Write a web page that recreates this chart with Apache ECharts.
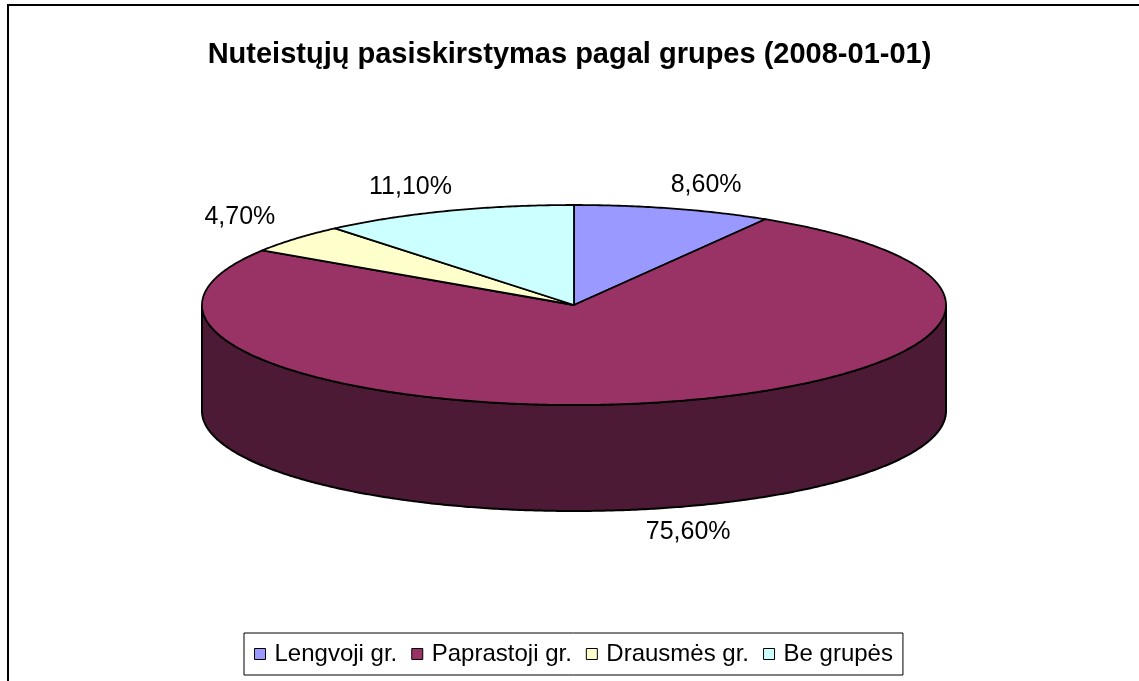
<!DOCTYPE html>
<html>
<head>
<meta charset="utf-8">
<script src="https://cdn.jsdelivr.net/npm/echarts@6/dist/echarts.min.js"></script>
<style>
  html, body { margin: 0; padding: 0; background: #fff; }
  #chart { width: 1139px; height: 681px; }
</style>
</head>
<body>
<div id="chart"></div>
<script>
// duomenys
const categories = ["Lengvoji gr.", "Paprastoji gr.", "Drausmės gr.", "Be grupės"];
const values = [8.6, 75.6, 4.7, 11.1];
const topColors = ["#9999FF", "#993366", "#FFFFCC", "#CCFFFF"];
const sideColors = ["#4D4D80", "#4C1A35", "#808066", "#668080"];

const FONT = "Liberation Sans, Arial, sans-serif";

// pseudo-3D elipsės parametrai
const cx = 574, cy = 305, rx = 372, ry = 100, depth = 106;

const total = values.reduce((a, b) => a + b, 0);
const starts = [];
values.reduce((acc, v, i) => { starts[i] = acc; return acc + v; }, 0);

const fmt = (v) => v.toFixed(2).replace(".", ",") + "%";

// kampas matuojamas nuo viršaus pagal laikrodžio rodyklę
const pt = (t, dy) => [cx + rx * Math.sin(t), cy - ry * Math.cos(t) + (dy || 0)];

function arc(t0, t1, dy) {
  const pts = [];
  const n = Math.max(2, Math.ceil(Math.abs(t1 - t0) / (Math.PI / 360)));
  for (let k = 0; k <= n; k++) pts.push(pt(t0 + (t1 - t0) * k / n, dy));
  return pts;
}

function renderItem(params, api) {
  const i = params.dataIndex;
  const t0 = api.value(0) / total * Math.PI * 2;
  const t1 = (api.value(0) + api.value(1)) / total * Math.PI * 2;
  const children = [];

  // matomas šoninis paviršius (priekinė pusė)
  const s = Math.max(t0, Math.PI / 2), e = Math.min(t1, Math.PI * 1.5);
  if (s < e) {
    const pts = arc(s, e, 0).concat(arc(e, s, depth));
    children.push({
      type: "polygon",
      z2: 1,
      shape: { points: pts },
      style: { fill: sideColors[i], stroke: "#000", lineWidth: 2 },
    });
  }

  // viršutinis paviršius
  children.push({
    type: "polygon",
    z2: 10,
    shape: { points: [[cx, cy]].concat(arc(t0, t1, 0)) },
    style: { fill: topColors[i], stroke: "#000", lineWidth: 1.8, lineJoin: "round" },
  });

  // etiketė
  const m = (t0 + t1) / 2;
  const sn = Math.sin(m), cs = Math.cos(m);
  const lx = cx + (rx + 48) * sn + 20 * Math.sign(sn);
  let ly = cy - (ry + 7) * cs - 17 * Math.sign(cs);
  if (cs < 0) ly += depth;
  children.push({
    type: "text",
    z2: 20,
    x: lx,
    y: ly,
    style: {
      text: fmt(api.value(1)),
      fill: "#000",
      font: "25px " + FONT,
      align: "center",
      verticalAlign: "middle",
    },
  });

  return { type: "group", children };
}

const chart = echarts.init(document.getElementById("chart"));

const option = {
  backgroundColor: "#fff",
  animation: false,
  title: {
    text: "Nuteistųjų pasiskirstymas pagal grupes (2008-01-01)",
    left: "center",
    top: 35,
    textStyle: { fontFamily: FONT, fontSize: 29, fontWeight: "bold", color: "#000" },
  },
  legend: {
    data: categories,
    left: 244,
    top: 633,
    icon: "rect",
    itemWidth: 11,
    itemHeight: 11,
    itemGap: 14,
    borderColor: "#000",
    borderWidth: 1,
    padding: [9, 10, 9, 10],
    itemStyle: { borderColor: "#000", borderWidth: 1 },
    textStyle: { fontFamily: FONT, fontSize: 24, color: "#000", padding: [0, 0, 0, 4] },
  },
  graphic: [
    {
      type: "rect",
      shape: { x: 8, y: 5, width: 1160, height: 720 },
      style: { fill: "none", stroke: "#000", lineWidth: 2 },
      silent: true,
    },
  ],
  series: [
    {
      type: "custom",
      coordinateSystem: "none",
      renderItem,
      data: values.map((v, i) => [starts[i], v]),
      silent: true,
    },
    {
      // tik legendai
      type: "pie",
      radius: 0,
      center: [-200, -200],
      label: { show: false },
      labelLine: { show: false },
      silent: true,
      data: categories.map((name, i) => ({
        name,
        value: values[i],
        itemStyle: { color: topColors[i] },
      })),
    },
  ],
};

chart.setOption(option);
</script>
</body>
</html>
